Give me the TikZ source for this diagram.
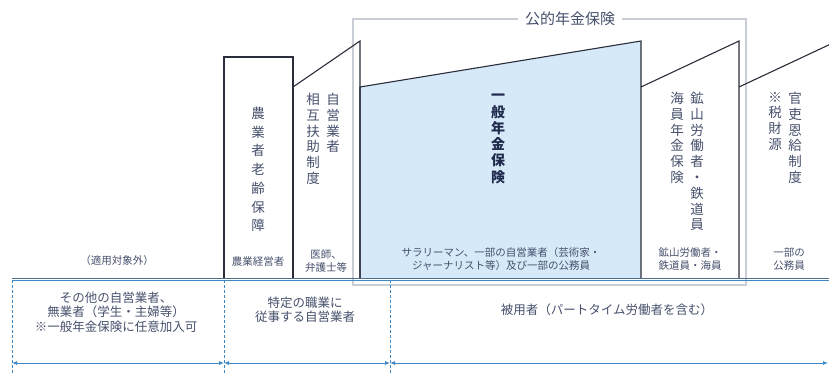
\documentclass[tikz,border=0pt]{standalone}
\usepackage{fontspec}
\setmainfont{Noto Sans CJK JP}
\usetikzlibrary{arrows.meta}
\definecolor{boxline}{HTML}{2A2E3A}
\definecolor{fillblue}{HTML}{D6E9F8}
\definecolor{framegray}{HTML}{C9CED6}
\definecolor{labc}{HTML}{46506C}
\definecolor{navy}{HTML}{1F2A4D}
\definecolor{dashblue}{HTML}{3F88C5}
\definecolor{basedark}{HTML}{4D6F8C}
\begin{document}
\begin{tikzpicture}[x=1pt,y=-1pt,
  boxstyle/.style={draw=boxline, line width=1.1pt, line join=miter},
  vlab/.style={align=center, inner sep=0pt, anchor=north, text=labc, font=\fontsize{13.5}{15.8}\selectfont},
  slab/.style={align=center, inner sep=0pt, text=labc, font=\fontsize{10.5}{13}\selectfont},
  blab/.style={align=center, inner sep=0pt, text=labc, font=\fontsize{12.5}{14.5}\selectfont},
  dashv/.style={draw=dashblue, line width=0.8pt, dash pattern=on 3pt off 2pt},
  dimarrow/.style={draw=dashblue, line width=0.8pt, {Latex[length=5pt,width=4pt]}-{Latex[length=5pt,width=4pt]}}
]
\useasboundingbox (0,0) rectangle (829,374);
\clip (0,0) rectangle (829,374);

% public pension frame
\draw[framegray, line width=2.2pt] (353,285) -- (353,19) -- (746,19) -- (746,285) -- cycle;
\node[fill=white, inner xsep=7pt, inner ysep=1pt, text=labc, font=\fontsize{15}{17}\selectfont] (ttl) at (570,19) {公的年金保険};

% coordinates of boxes
\coordinate (a1) at (224,57);  \coordinate (a2) at (293,57);
\coordinate (b1) at (293,87);  \coordinate (b2) at (360,41);
\coordinate (c1) at (360,87);  \coordinate (c2) at (641,41);
\coordinate (d1) at (641,87);  \coordinate (d2) at (739,41);
\coordinate (e1) at (739,87);  \coordinate (e2) at (835,42);

% general pension (filled)
\fill[fillblue] (360,278) -- (c1) -- (c2) -- (641,278) -- cycle;
\draw[boxstyle] (360,278) -- (c1) -- (c2) -- (641,278);

% farmers
\draw[boxstyle] (224,278) -- (a1) -- (a2) -- (293,278);
% self-employed mutual aid
\draw[boxstyle] (b1) -- (b2) -- (360,278);
% miners etc.
\draw[boxstyle] (d1) -- (d2) -- (739,278);
% civil servants
\draw[boxstyle] (e1) -- (e2);

% baseline
\draw[dashblue, line width=1.2pt] (12,280.5) -- (829,280.5);
\draw[basedark, line width=1.8pt] (12,278.5) -- (829,278.5);

% vertical labels
\node[vlab, font=\fontsize{13.5}{18.7}\selectfont] (l1) at (258,107) {農\\業\\者\\老\\齢\\保\\障};
\node[vlab] (l2a) at (333,93) {自\\営\\業\\者};
\node[vlab] (l2b) at (313,93) {相\\互\\扶\\助\\制\\度};
\node[vlab, text=navy, font=\fontsize{14}{16.3}\selectfont\bfseries] (l3) at (498,94) {一\\般\\年\\金\\保\\険};
\node[vlab] (l4a) at (697,92) {鉱\\山\\労\\働\\者\\・\\鉄\\道\\員};
\node[vlab] (l4b) at (677,92) {海\\員\\年\\金\\保\\険};
\node[vlab] (l5a) at (795,92) {官\\吏\\恩\\給\\制\\度};
\node[vlab] (l5b) at (775,92) {※\\税\\財\\源};

% small labels above baseline
\node[slab] (s0) at (117,261) {（適用対象外）};
\node[slab] (s1) at (258,262) {農業経営者};
\node[slab] (s2) at (326,261) {医師、\\弁護士等};
\node[slab] (s3) at (501,259) {サラリーマン、一部の自営業者（芸術家・\\ジャーナリスト等）及び一部の公務員};
\node[slab] (s4) at (690,259) {鉱山労働者・\\鉄道員・海員};
\node[slab] (s5) at (789,259) {一部の\\公務員};

% lower section
\draw[dashv] (12,280) -- (12,374);
\draw[dashv] (224,280) -- (224,374);
\draw[dashv] (390,280) -- (390,374);
\coordinate (p0) at (12,363);
\coordinate (p1) at (224,363);
\coordinate (p2) at (390,363);
\coordinate (p3) at (828,363);
\draw[dimarrow] (p0) -- (p1);
\draw[dimarrow] (p1) -- (p2);
\draw[dimarrow] (p2) -- (p3);

\node[blab] (g1) at (116,312) {その他の自営業者、\\無業者（学生・主婦等）\\※一般年金保険に任意加入可};
\node[blab] (g2) at (305,310) {特定の職業に\\従事する自営業者};
\node[blab] (g3) at (607,310) {被用者（パートタイム労働者を含む）};
\end{tikzpicture}
\end{document}
